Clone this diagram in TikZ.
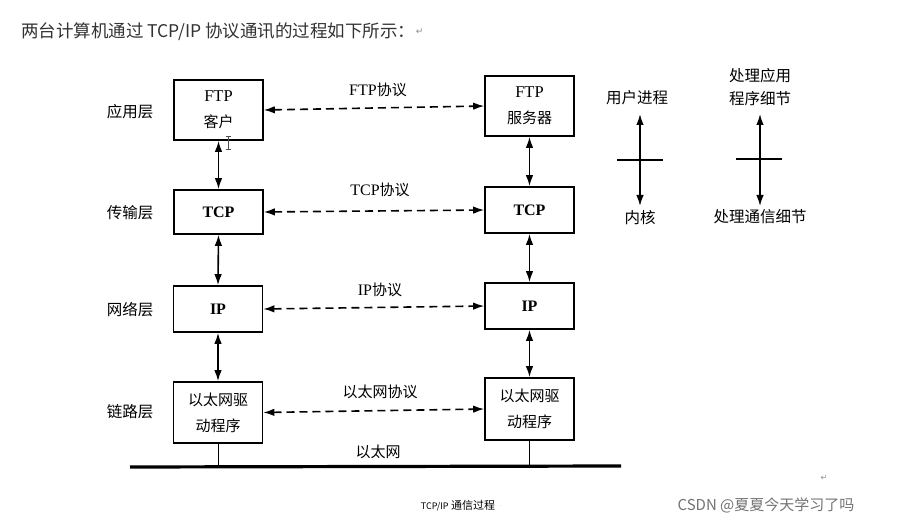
\documentclass[tikz,border=0pt]{standalone}
\usepackage{fontspec}
\setmainfont{Noto Sans CJK SC}
\newfontfamily\lat{Liberation Serif}
\newfontfamily\cjk{Noto Sans CJK SC}
\newfontfamily\dejavu{DejaVu Sans}
\usetikzlibrary{arrows.meta}
\tikzset{
  box/.style={draw, line width=1.6pt, minimum width=89pt, align=center, inner sep=0pt, font=\fontsize{15}{26}\selectfont},
  layer/.style={font=\fontsize{15.5}{18}\selectfont},
  proto/.style={font=\fontsize{15}{18}\selectfont},
  darr/.style={line width=1.6pt, {Latex[length=11pt,width=7.5pt]}-{Latex[length=11pt,width=7.5pt]}},
  dasharr/.style={darr, dash pattern=on 8pt off 5pt},
  legend/.style={font=\fontsize{15.5}{23}\selectfont, align=center}
}
\begin{document}
\begin{tikzpicture}[x=1pt,y=-1pt]
\useasboundingbox[fill=white] (0,0) rectangle (903,524);
% title
\node[anchor=west, text=black!80, font=\fontsize{17.5}{20}\selectfont, inner sep=0] (title) at (21,32) {两台计算机通过 TCP/IP 协议通讯的过程如下所示：};
\node[anchor=west, text=black!45, font=\dejavu\fontsize{9}{10}\selectfont, inner sep=0] (ret) at (title.east) {↵};
% boxes left
\node[box, minimum height=60pt] (c1) at (218.5,110) {{\lat\fontsize{16.5}{18}\selectfont FTP}\\客户};
\node[box, minimum height=44pt] (c2) at (218.5,212) {\lat\bfseries\fontsize{16}{18}\selectfont TCP};
\node[box, minimum height=46pt] (c3) at (218,309) {\lat\bfseries\fontsize{16}{18}\selectfont IP};
\node[box, minimum height=61pt] (c4) at (218,412.5) {以太网驱\\动程序};
% boxes right
\node[box, minimum height=60pt] (s1) at (529.5,106) {{\lat\fontsize{16.5}{18}\selectfont FTP}\\服务器};
\node[box, minimum height=46pt] (s2) at (529.5,210) {\lat\bfseries\fontsize{16}{18}\selectfont TCP};
\node[box, minimum height=46pt] (s3) at (529.5,306) {\lat\bfseries\fontsize{16}{18}\selectfont IP};
\node[box, minimum height=62pt] (s4) at (529.5,409) {以太网驱\\动程序};
% layer labels
\node[layer] (l1) at (130,112) {应用层};
\node[layer] (l2) at (130,213) {传输层};
\node[layer] (l3) at (130,310) {网络层};
\node[layer] (l4) at (130,412) {链路层};
% vertical arrows
\draw[darr] (c1.south) -- (c2.north);
\draw[darr] (c2.south) -- (c3.north);
\draw[darr] (c3.south) -- (c4.north);
\draw[darr] (s1.south) -- (s2.north);
\draw[darr] (s2.south) -- (s3.north);
\draw[darr] (s3.south) -- (s4.north);
% dashed protocol arrows
\draw[dasharr] (c1.east) -- (s1.west);
\draw[dasharr] (c2.east) -- (s2.west);
\draw[dasharr] (c3.east) -- (s3.west);
\draw[dasharr] (c4.east) -- (s4.west);
\node[proto] (p1) at (378,90) {{\lat\fontsize{16}{18}\selectfont FTP}协议};
\node[proto] (p2) at (380,190) {{\lat\fontsize{16}{18}\selectfont TCP}协议};
\node[proto] (p3) at (380,290) {{\lat\fontsize{16}{18}\selectfont IP}协议};
\node[proto] (p4) at (380,392) {以太网协议};
% ethernet
\coordinate (eA) at (130,467);
\coordinate (eB) at (621,466);
\draw[line width=3.2pt] (eA) -- (eB);
\coordinate (eL) at (c4.south |- eA);
\coordinate (eR) at (s4.south |- eB);
\draw[line width=0.9pt] (c4.south) -- (eL);
\draw[line width=0.9pt] (s4.south) -- (eR);
\node[proto] (eth) at (378,452) {以太网};
% text cursor
\draw[line width=0.7pt, black!70] (228,136) -- (228,149) (225.5,136) -- (230.5,136) (225.5,149) -- (230.5,149);
% legend 1
\node[legend] (up) at (637,98) {用户进程};
\node[legend] (kn) at (640,218) {内核};
\coordinate (a1t) at (640,114);
\coordinate (a1b) at (640,206);
\draw[darr] (a1t) -- (a1b);
\coordinate (t1l) at (617,160);
\coordinate (t1r) at (663,160);
\draw[line width=1.6pt] (t1l) -- (t1r);
% legend 2
\node[legend] (ap) at (760,87) {处理应用\\程序细节};
\node[legend] (cm) at (760,217) {处理通信细节};
\coordinate (a2t) at (760,114);
\coordinate (a2b) at (760,206);
\draw[darr] (a2t) -- (a2b);
\coordinate (t2l) at (736,159);
\coordinate (t2r) at (782,159);
\draw[line width=1.6pt] (t2l) -- (t2r);
% caption
\node[font=\fontsize{11}{12}\selectfont] (cap) at (458,506) {{\fontsize{9}{10}\selectfont TCP/IP} 通信过程};
\node[anchor=west, text=black!40, font=\fontsize{6}{6}\selectfont, inner sep=1pt] (capdot) at (cap.east) {.};
\node[text=black!45, font=\dejavu\fontsize{8}{9}\selectfont] (ret2) at (824,478) {↵};
\node[text=black!55, font=\fontsize{15}{17}\selectfont] (csdn) at (766,505) {CSDN @夏夏今天学习了吗};
\end{tikzpicture}
\end{document}
